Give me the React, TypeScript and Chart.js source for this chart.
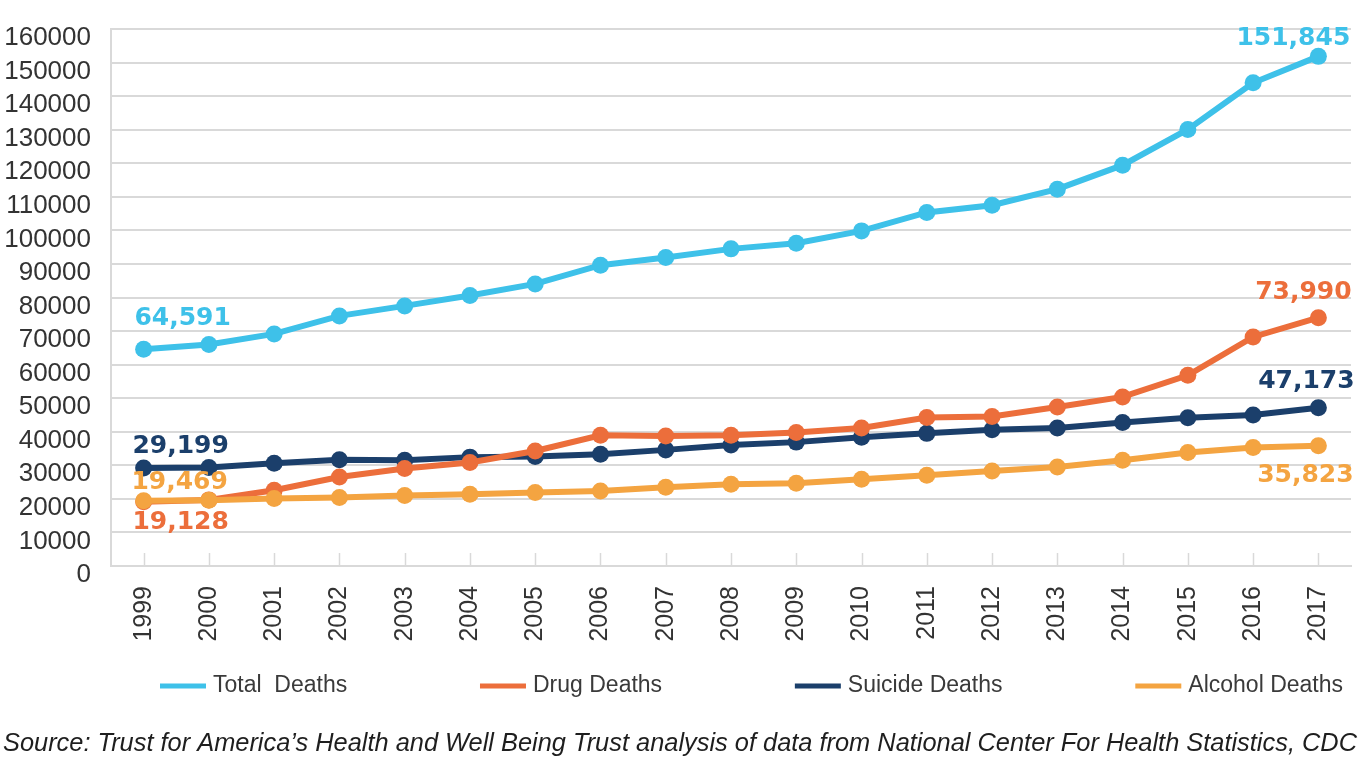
import React, { useEffect, useRef } from "react";
import { Chart, registerables } from "chart.js";

Chart.register(...registerables);

const years = ["1999","2000","2001","2002","2003","2004","2005","2006","2007","2008","2009","2010","2011","2012","2013","2014","2015","2016","2017"];
const totalDeaths = [64591, 65990, 69150, 74520, 77500, 80600, 84050, 89630, 91920, 94490, 96180, 99850, 105330, 107510, 112280, 119430, 130070, 143960, 151845];
const drugDeaths = [19128, 19700, 22560, 26530, 29030, 30820, 34280, 38960, 38750, 38960, 39760, 41130, 44230, 44530, 47390, 50370, 56840, 68260, 73990];
const suicideDeaths = [29199, 29350, 30622, 31655, 31484, 32439, 32637, 33300, 34598, 36035, 36909, 38364, 39518, 40600, 41149, 42773, 44193, 44965, 47173];
const alcoholDeaths = [19469, 19580, 20090, 20380, 20980, 21370, 21880, 22350, 23460, 24350, 24650, 25840, 27040, 28320, 29510, 31510, 33800, 35290, 35823];
const seriesNames = ["Total  Deaths", "Drug Deaths", "Suicide Deaths", "Alcohol Deaths"];
const yTicks = [0, 10000, 20000, 30000, 40000, 50000, 60000, 70000, 80000, 90000, 100000, 110000, 120000, 130000, 140000, 150000, 160000];
const sourceText = "Source: Trust for America\u2019s Health and Well Being Trust analysis of data from National Center For Health Statistics, CDC";

const COLORS = ["#3ec1e9", "#ec6e3b", "#1b3f6b", "#f4a441"];
const FONT = '"Liberation Sans", Arial, sans-serif';

// label placement (style only): dataset index -> list of {point index, dx, dy}
const labelPlacement = [
  [{ i: 0, dx: 39, dy: -31 }, { i: 18, dx: -25, dy: -18 }],
  [{ i: 0, dx: 37, dy: 21 }, { i: 18, dx: -15, dy: -25 }],
  [{ i: 0, dx: 37, dy: -22 }, { i: 18, dx: -12, dy: -26 }],
  [{ i: 0, dx: 36, dy: -18 }, { i: 18, dx: -13, dy: 30 }],
];

const innerTicksPlugin = {
  id: "innerTicks",
  beforeDatasetsDraw(chart: any) {
    const { ctx, chartArea, scales } = chart;
    const xs = scales.x;
    ctx.save();
    ctx.strokeStyle = "#d9d9d9";
    ctx.lineWidth = 1.5;
    for (let i = 0; i < years.length; i++) {
      const x = Math.round(xs.getPixelForTick(i)) + 0.5;
      ctx.beginPath();
      ctx.moveTo(x, chartArea.bottom - 13);
      ctx.lineTo(x, chartArea.bottom);
      ctx.stroke();
    }
    ctx.restore();
  },
};

const dataLabelsPlugin = {
  id: "dataLabels",
  afterDatasetsDraw(chart: any) {
    const { ctx } = chart;
    ctx.save();
    ctx.font = 'bold 25px "DejaVu Sans", sans-serif';
    ctx.textAlign = "center";
    ctx.textBaseline = "middle";
    chart.data.datasets.forEach((ds: any, di: number) => {
      const meta = chart.getDatasetMeta(di);
      ctx.fillStyle = ds.borderColor;
      labelPlacement[di].forEach((p) => {
        const el = meta.data[p.i];
        const text = Number(ds.data[p.i]).toLocaleString("en-US");
        ctx.fillText(text, el.x + p.dx, el.y + p.dy);
      });
    });
    ctx.restore();
  },
};

const legendAndSourcePlugin = {
  id: "legendAndSource",
  afterDraw(chart: any) {
    const { ctx } = chart;
    ctx.save();
    // legend
    const fontSize = 23;
    ctx.font = `${fontSize}px ${FONT}`;
    const sample = 46;
    const gap = 7;
    const startX = 160;
    const endX = 1343;
    const y = 686;
    const widths = seriesNames.map((n) => sample + gap + ctx.measureText(n).width);
    const total = widths.reduce((a, b) => a + b, 0);
    const spacing = (endX - startX - total) / (seriesNames.length - 1);
    let x = startX;
    seriesNames.forEach((name, i) => {
      ctx.strokeStyle = COLORS[i];
      ctx.lineWidth = 5;
      ctx.lineCap = "butt";
      ctx.beginPath();
      ctx.moveTo(x, y);
      ctx.lineTo(x + sample, y);
      ctx.stroke();
      ctx.fillStyle = "#3a3a3a";
      ctx.textAlign = "left";
      ctx.textBaseline = "middle";
      ctx.fillText(name, x + sample + gap, y);
      x += widths[i] + spacing;
    });
    // source
    ctx.font = `italic 26px "Liberation Sans Narrow", ${FONT}`;
    ctx.fillStyle = "#1e1e1e";
    ctx.textAlign = "left";
    ctx.textBaseline = "alphabetic";
    ctx.fillText(sourceText, 3, 751, 1354);
    ctx.restore();
  },
};

export default function App() {
  const canvasRef = useRef<HTMLCanvasElement | null>(null);

  useEffect(() => {
    const canvas = canvasRef.current;
    if (!canvas) return;
    const mk = (label: string, data: number[], color: string, order: number) => ({
      label,
      data,
      borderColor: color,
      backgroundColor: color,
      pointBackgroundColor: color,
      pointBorderColor: color,
      pointBorderWidth: 0,
      pointRadius: 8.5,
      borderWidth: 6,
      tension: 0,
      order,
    });
    const chart = new Chart(canvas, {
      type: "line",
      data: {
        labels: years,
        datasets: [
          mk(seriesNames[0], totalDeaths, COLORS[0], 3),
          mk(seriesNames[1], drugDeaths, COLORS[1], 1),
          mk(seriesNames[2], suicideDeaths, COLORS[2], 2),
          mk(seriesNames[3], alcoholDeaths, COLORS[3], 0),
        ],
      },
      options: {
        responsive: false,
        animation: false,
        layout: { padding: { left: 0, right: 15, top: 29, bottom: 112 } },
        plugins: {
          legend: { display: false },
          title: { display: false },
          tooltip: { enabled: false },
        },
        scales: {
          x: {
            type: "category",
            offset: true,
            grid: { drawOnChartArea: false, drawTicks: false },
            border: { display: true, color: "#d9d9d9", width: 2 },
            ticks: {
              color: "#333333",
              font: { family: FONT, size: 25 },
              minRotation: 90,
              maxRotation: 90,
              padding: 20,
              autoSkip: false,
            },
            afterFit: (s: any) => {
              s.height = 90;
              s.paddingLeft = 0;
              s.paddingRight = 0;
            },
          },
          y: {
            min: 0,
            max: 160000,
            afterBuildTicks: (s: any) => {
              s.ticks = yTicks.map((v) => ({ value: v }));
            },
            ticks: {
              color: "#333333",
              font: { family: FONT, size: 26 },
              padding: 20,
              labelOffset: 9,
              autoSkip: false,
              callback: (v: any) => String(v),
            },
            grid: { color: "#d9d9d9", lineWidth: 2, drawTicks: false },
            border: { display: true, color: "#d9d9d9", width: 2 },
            afterFit: (s: any) => {
              s.width = 111;
              s.paddingTop = 0;
              s.paddingBottom = 0;
            },
          },
        },
      },
      plugins: [innerTicksPlugin, dataLabelsPlugin, legendAndSourcePlugin],
    } as any);
    return () => chart.destroy();
  }, []);

  return (
    <div style={{ position: "absolute", left: 0, top: 0, width: 1366, height: 768, background: "#ffffff" }}>
      <canvas ref={canvasRef} width={1366} height={768} style={{ display: "block", width: 1366, height: 768 }} />
    </div>
  );
}
